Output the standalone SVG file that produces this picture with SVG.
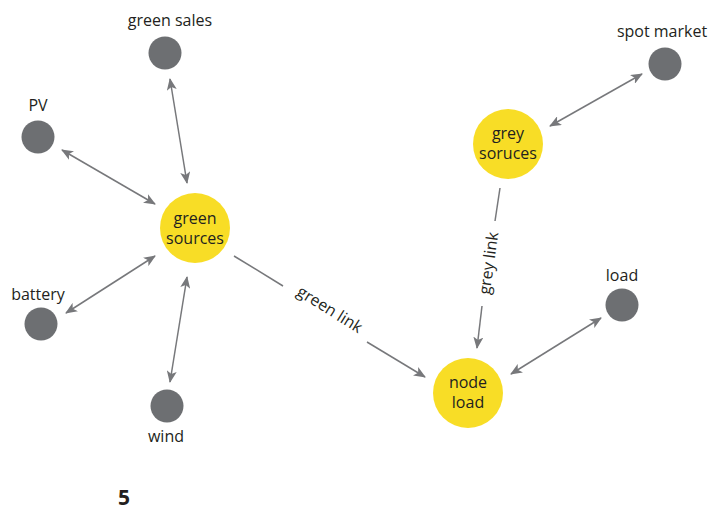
<svg xmlns="http://www.w3.org/2000/svg" width="713" height="510" viewBox="0 0 713 510">
<style>
.lbl{font-family:"Open Sans","Liberation Sans",sans-serif;font-size:16px;fill:#231f20;text-anchor:middle}
.grey{fill:#6d6f72}
.yel{fill:#f8dd26}
.ln{stroke:#77787b;stroke-width:1.5;fill:none}
</style>
<defs>
<marker id="ah" viewBox="0 0 12 10" refX="11" refY="5" markerWidth="12" markerHeight="10" markerUnits="userSpaceOnUse" orient="auto-start-reverse">
<path d="M0,0 L12,5 L0,10 L3,5 z" fill="#77787b"/>
</marker>
</defs>
<rect width="713" height="510" fill="#fff"/>
<g id="connectors">
<line class="ln" x1="170" y1="79" x2="187" y2="183" marker-start="url(#ah)" marker-end="url(#ah)"/>
<line class="ln" x1="62" y1="150" x2="155" y2="204" marker-start="url(#ah)" marker-end="url(#ah)"/>
<line class="ln" x1="66" y1="313" x2="155" y2="256" marker-start="url(#ah)" marker-end="url(#ah)"/>
<line class="ln" x1="170" y1="382" x2="187" y2="277" marker-start="url(#ah)" marker-end="url(#ah)"/>
<line class="ln" x1="234" y1="256" x2="283" y2="286"/>
<line class="ln" x1="367" y1="342" x2="425" y2="377" marker-end="url(#ah)"/>
<text class="lbl" transform="translate(327,314) rotate(32)">green link</text>
<line class="ln" x1="500" y1="188" x2="495" y2="221"/>
<line class="ln" x1="482" y1="306" x2="477" y2="348" marker-end="url(#ah)"/>
<text class="lbl" transform="translate(494,264) rotate(-82)">grey link</text>
<line class="ln" x1="550" y1="126" x2="642" y2="74" marker-start="url(#ah)" marker-end="url(#ah)"/>
<line class="ln" x1="511" y1="374" x2="601" y2="318" marker-start="url(#ah)" marker-end="url(#ah)"/>
</g>
<g id="green-sales"><circle class="grey" cx="165" cy="53" r="16.5"/><text class="lbl" x="170" y="26">green sales</text></g>
<g id="pv"><circle class="grey" cx="38" cy="137" r="16.5"/><text class="lbl" x="38" y="111">PV</text></g>
<g id="battery"><circle class="grey" cx="41" cy="324" r="16.5"/><text class="lbl" x="38" y="300">battery</text></g>
<g id="wind"><circle class="grey" cx="167" cy="406" r="16.5"/><text class="lbl" x="166" y="442">wind</text></g>
<g id="spot-market"><circle class="grey" cx="665" cy="64" r="16.5"/><text class="lbl" x="662" y="37">spot market</text></g>
<g id="load"><circle class="grey" cx="622" cy="305" r="16.5"/><text class="lbl" x="622" y="281">load</text></g>
<g id="green-sources"><circle class="yel" cx="195" cy="228" r="35"/><text class="lbl"><tspan x="195" y="224">green</tspan><tspan x="195" y="244">sources</tspan></text></g>
<g id="grey-soruces"><circle class="yel" cx="508" cy="144" r="35"/><text class="lbl"><tspan x="508" y="139">grey</tspan><tspan x="508" y="159">soruces</tspan></text></g>
<g id="node-load"><circle class="yel" cx="468" cy="393" r="35"/><text class="lbl"><tspan x="468" y="388">node</tspan><tspan x="468" y="408">load</tspan></text></g>
<text x="124" y="505" style="font-family:'Open Sans','Liberation Sans',sans-serif;font-size:21px;font-weight:bold;fill:#231f20;text-anchor:middle">5</text>
</svg>
